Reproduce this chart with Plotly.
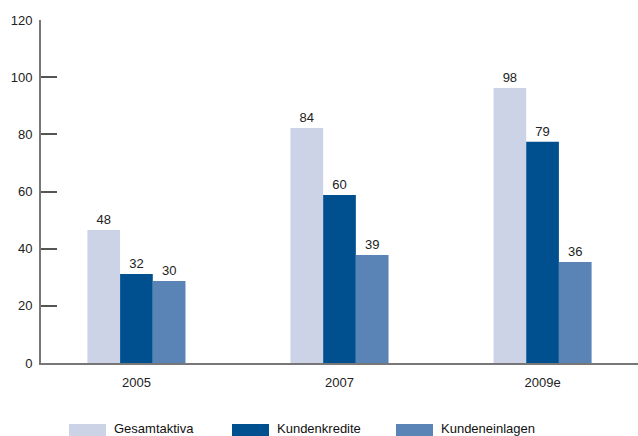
import plotly.graph_objects as go

years = ["2005", "2007", "2009e"]
series_names = ["Gesamtaktiva", "Kundenkredite", "Kundeneinlagen"]
gesamtaktiva_labels = [48, 84, 98]
kundenkredite_labels = [32, 60, 79]
kundeneinlagen_labels = [30, 39, 36]
# bar heights as drawn in the picture (slightly below the printed labels)
gesamtaktiva_bars = [46.5, 82.2, 96.2]
kundenkredite_bars = [31.1, 58.8, 77.4]
kundeneinlagen_bars = [28.7, 37.8, 35.3]
y_ticks = [0, 20, 40, 60, 80, 100, 120]

colors = ["#CDD3E6", "#00508F", "#5B84B6"]
font_family = "Liberation Sans, Arial, sans-serif"

fig = go.Figure()
for name, bars, labels, col in zip(
    series_names,
    [gesamtaktiva_bars, kundenkredite_bars, kundeneinlagen_bars],
    [gesamtaktiva_labels, kundenkredite_labels, kundeneinlagen_labels],
    colors,
):
    fig.add_trace(go.Bar(
        x=years, y=bars, name=name, marker=dict(color=col, line=dict(width=0)),
        text=[str(v) for v in labels], textposition="outside",
        textfont=dict(size=13, color="#222222", family=font_family),
        cliponaxis=False, showlegend=False,
    ))

fig.update_layout(
    width=638, height=436,
    margin=dict(l=41, r=0, t=20, b=73),
    paper_bgcolor="white", plot_bgcolor="white",
    barmode="group", bargap=0.517, bargroupgap=0,
    font=dict(family=font_family, size=13, color="#222222"),
    xaxis=dict(
        type="category", range=[-0.47, 2.47],
        showline=True, linecolor="#777777", linewidth=2,
        showgrid=False, ticks="", zeroline=False,
        tickfont=dict(size=13, color="#222222"),
        ticklabelstandoff=6,
    ),
    yaxis=dict(
        range=[0, 120], tickvals=y_ticks,
        showline=True, linecolor="#777777", linewidth=2,
        ticks="inside", ticklen=16, tickwidth=1.5, tickcolor="#555555",
        showgrid=False, zeroline=False,
        tickfont=dict(size=13, color="#222222"),
        ticklabelstandoff=4,
    ),
)

# custom legend with wide swatches
swatch_x = [69, 232, 396]
for name, col, sx in zip(series_names, colors, swatch_x):
    fig.add_shape(type="rect", xref="paper", yref="paper",
                  x0=(sx - 41) / 597, x1=(sx + 37 - 41) / 597,
                  y0=(363 - 436) / 343 - 0.001, y1=(363 - 424) / 343,
                  fillcolor=col, line=dict(width=0), layer="above")
    fig.add_annotation(xref="paper", yref="paper",
                       x=(sx + 43 - 41) / 597, y=(363 - 419) / 343,
                       xanchor="left", yanchor="top", showarrow=False,
                       text=name, font=dict(size=13, color="#111111", family=font_family))

fig.write_html("out.html", config={"displayModeBar": False},
               post_script="document.body.style.margin='0';document.body.style.overflow='hidden';")
